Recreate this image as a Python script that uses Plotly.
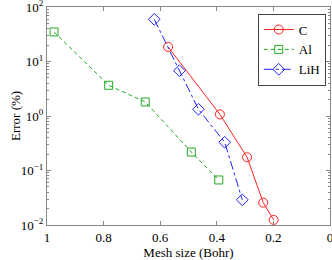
import plotly.graph_objects as go

c_mesh = [0.572, 0.389, 0.293, 0.236, 0.199]
c_err = [18.5, 1.07, 0.175, 0.0257, 0.0124]
al_mesh = [0.975, 0.782, 0.653, 0.49, 0.393]
al_err = [34.8, 3.66, 1.81, 0.218, 0.067]
lih_mesh = [0.621, 0.532, 0.465, 0.372, 0.31]
lih_err = [59.4, 6.78, 1.33, 0.33, 0.029]

x_ticks = [1, 0.8, 0.6, 0.4, 0.2, 0]
x_labels = ["1", "0.8", "0.6", "0.4", "0.2", "0"]
y_ticks = [1e-2, 1e-1, 1, 10, 100]
y_labels = ["10<sup>−2</sup>", "10<sup>−1</sup>", "10<sup>0</sup>", "10<sup>1</sup>", "10<sup>2</sup>"]

font = "Liberation Serif, DejaVu Serif, serif"

fig = go.Figure()
fig.add_trace(go.Scatter(x=c_mesh, y=c_err, name="C", mode="lines+markers",
                         line=dict(color="#ff2020", width=1, dash="solid"),
                         marker=dict(symbol="circle-open", size=9, color="#ff2020", line=dict(width=1))))
fig.add_trace(go.Scatter(x=al_mesh, y=al_err, name="Al", mode="lines+markers",
                         line=dict(color="#22aa22", width=1, dash="4px,3px"),
                         marker=dict(symbol="square-open", size=8, color="#22aa22", line=dict(width=1))))
fig.add_trace(go.Scatter(x=lih_mesh, y=lih_err, name="LiH", mode="lines+markers",
                         line=dict(color="#2020ff", width=1, dash="dashdot"),
                         marker=dict(symbol="diamond-open", size=9, color="#2020ff", line=dict(width=1))))

minor_vals = [m * 10 ** e for e in range(-2, 2) for m in range(2, 10)]

axis_common = dict(showline=True, linecolor="#888888", linewidth=1, mirror="ticks",
                   ticks="inside", tickcolor="#888888", ticklen=4, showgrid=False, zeroline=False,
                   ticklabeloverflow="allow", automargin=False,
                   tickfont=dict(family=font, size=13, color="black"))

fig.update_xaxes(range=[1, 0], tickvals=x_ticks, ticktext=x_labels,
                 title=dict(text="Mesh size (Bohr)", font=dict(family=font, size=13, color="black"), standoff=0),
                 **axis_common)
fig.update_yaxes(type="log", range=[-2, 2], tickvals=y_ticks, ticktext=y_labels,
                 minor=dict(tickvals=minor_vals, ticks="inside", ticklen=2, tickcolor="#888888"),
                 **axis_common)

fig.add_annotation(text="Error (%)", xref="paper", yref="paper", x=-0.113, y=0.5,
                   xanchor="center", yanchor="middle", textangle=-90, showarrow=False,
                   font=dict(family=font, size=13, color="black"))

fig.update_layout(width=332, height=260, margin=dict(l=47, r=2, t=7, b=35),
                  paper_bgcolor="white", plot_bgcolor="white", showlegend=True,
                  legend=dict(x=0.985, y=0.97, xanchor="right", yanchor="top",
                              bordercolor="#444444", borderwidth=1, bgcolor="white",
                              font=dict(family=font, size=13, color="black"),
                              itemwidth=30, tracegroupgap=0))

fig.write_html("out.html", config={"displayModeBar": False},
               post_script="document.body.style.margin='0';")
